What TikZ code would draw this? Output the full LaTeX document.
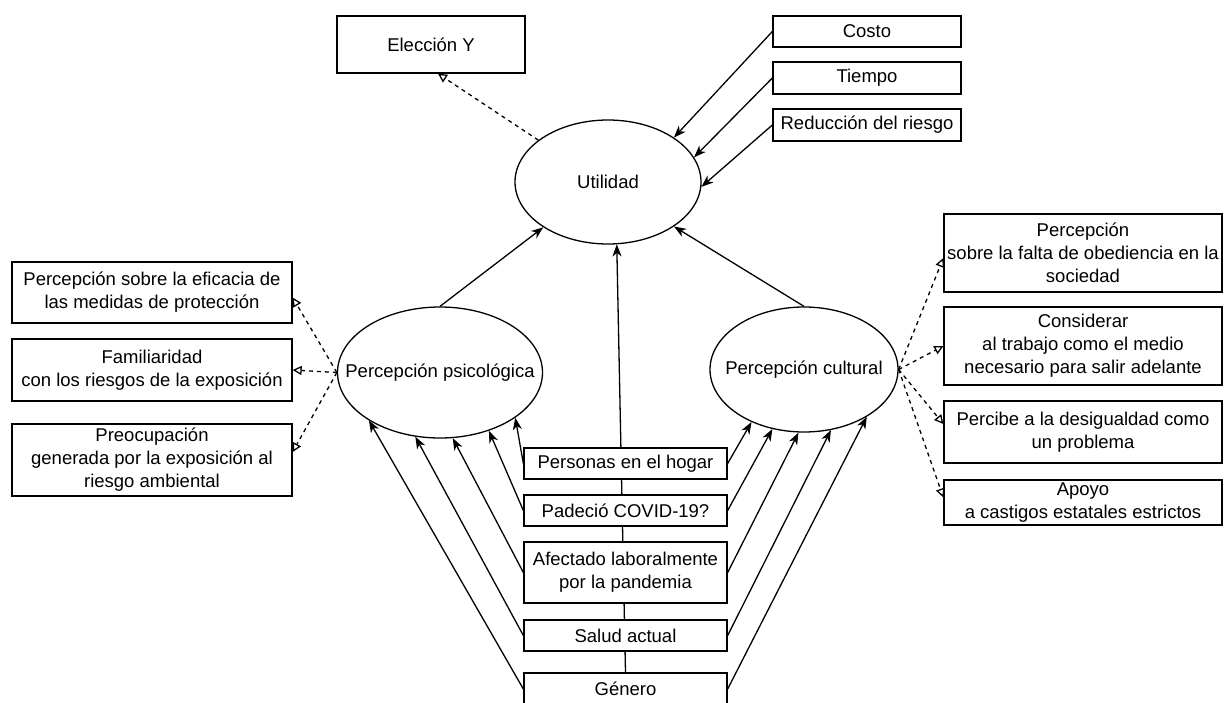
\documentclass[tikz,border=0pt]{standalone}
\usepackage{fontspec}
\setmainfont{Liberation Sans}
\usetikzlibrary{arrows.meta,shapes.geometric,calc,backgrounds}
\begin{document}
\begin{tikzpicture}[x=1pt,y=-1pt,
  every node/.style={font=\fontsize{18.5}{23}\selectfont},
  box/.style={draw, rectangle, fill=white, align=center, inner sep=0pt, line width=1.3pt},
  oval/.style={draw, ellipse, fill=white, inner sep=0pt, line width=1.3pt},
  conn/.style={line width=1.3pt},
  arr/.style={conn, -{Stealth[length=12pt,width=9pt,inset=3.5pt]}},
  darr/.style={conn, dash pattern=on 4pt off 4pt, -{Triangle[open,length=9pt,width=9pt]}},
]
\useasboundingbox (0,0) rectangle (1224,702);
\clip (0,0) rectangle (1224,702);

% top
\node[box, minimum width=188pt, minimum height=57pt] (elec) at (431,44.5) {Elección Y};
\node[box, minimum width=188pt, minimum height=31pt] (costo) at (867,31.5) {Costo};
\node[box, minimum width=188pt, minimum height=32pt] (tiempo) at (867,78) {Tiempo};
\node[box, minimum width=188pt, minimum height=32pt] (reduc) at (867,125) {Reducción del riesgo};
\node[oval, minimum width=186pt, minimum height=124pt] (util) at (608,182) {\makebox[0pt]{Utilidad}};

% latent perceptions
\node[oval, minimum width=205pt, minimum height=131pt] (psych) at (440,372.5) {\makebox[0pt]{Percepción psicológica}};
\node[oval, minimum width=188pt, minimum height=125pt] (cult) at (804,369.5) {\makebox[0pt]{Percepción cultural}};

% left indicators
\node[box, minimum width=280pt, minimum height=61pt] (l1) at (152,292.5) {Percepción sobre la eficacia de\\las medidas de protección};
\node[box, minimum width=280pt, minimum height=62pt] (l2) at (152,370) {Familiaridad\\con los riesgos de la exposición};
\node[box, minimum width=280pt, minimum height=72pt] (l3) at (152,460) {Preocupación\\generada por la exposición al\\riesgo ambiental};

% right indicators
\node[box, minimum width=278pt, minimum height=78pt] (r1) at (1083,253) {Percepción\\sobre la falta de obediencia en la\\sociedad};
\node[box, minimum width=278pt, minimum height=78pt] (r2) at (1083,346) {Considerar\\al trabajo como el medio\\necesario para salir adelante};
\node[box, minimum width=278pt, minimum height=62pt] (r3) at (1083,432) {Percibe a la desigualdad como\\un problema};
\node[box, minimum width=278pt, minimum height=45pt] (r4) at (1083,502.5) {Apoyo\\a castigos estatales estrictos};

% bottom covariates
\node[box, minimum width=203pt, minimum height=31pt] (b1) at (625.5,463.5) {Personas en el hogar};
\node[box, minimum width=203pt, minimum height=31pt] (b2) at (625.5,510.5) {Padeció COVID-19?};
\node[box, minimum width=203pt, minimum height=61pt] (b3) at (625.5,572.5) {Afectado laboralmente\\por la pandemia};
\node[box, minimum width=203pt, minimum height=31pt] (b4) at (625.5,635.5) {Salud actual};
\node[box, minimum width=203pt, minimum height=32pt] (b5) at (625.5,689) {Género};

\begin{pgfonlayer}{background}
\draw[arr] (b5.north) -- (util.-82);
\end{pgfonlayer}

% into utility
\draw[arr] (costo.west) -- (util.34);
\draw[arr] (tiempo.west) -- (util.16);
\draw[arr] (reduc.west) -- (util.-3);
\draw[darr] (util.149) -- ($(elec.south)+(7,0)$);
\draw[arr] (psych.north) -- (util.215);
\draw[arr] (cult.north) -- (util.-34);

% covariates to psychological perception
\draw[arr] (b1.west) -- (psych.-31);
\draw[arr] (b2.west) -- (psych.-50);
\draw[arr] (b3.west) -- (psych.-79);
\draw[arr] (b4.west) -- (psych.-111);
\draw[arr] (b5.west) -- (psych.-146);

% covariates to cultural perception
\draw[arr] (b1.east) -- (cult.-135);
\draw[arr] (b2.east) -- (cult.-118);
\draw[arr] (b3.east) -- (cult.-95);
\draw[arr] (b4.east) -- (cult.-66);
\draw[arr] (b5.east) -- (cult.-37);

% measurement (dashed)
\draw[darr] (psych.west) -- ($(l1.east)+(0,5)$);
\draw[darr] (psych.west) -- (l2.east);
\draw[darr] (psych.west) -- ($(l3.east)+(0,-8)$);
\draw[darr] (cult.east) -- ($(r1.west)+(0,5)$);
\draw[darr] (cult.east) -- (r2.west);
\draw[darr] (cult.east) -- ($(r3.west)+(0,-8)$);
\draw[darr] (cult.east) -- ($(r4.west)+(0,-5)$);
\end{tikzpicture}
\end{document}
